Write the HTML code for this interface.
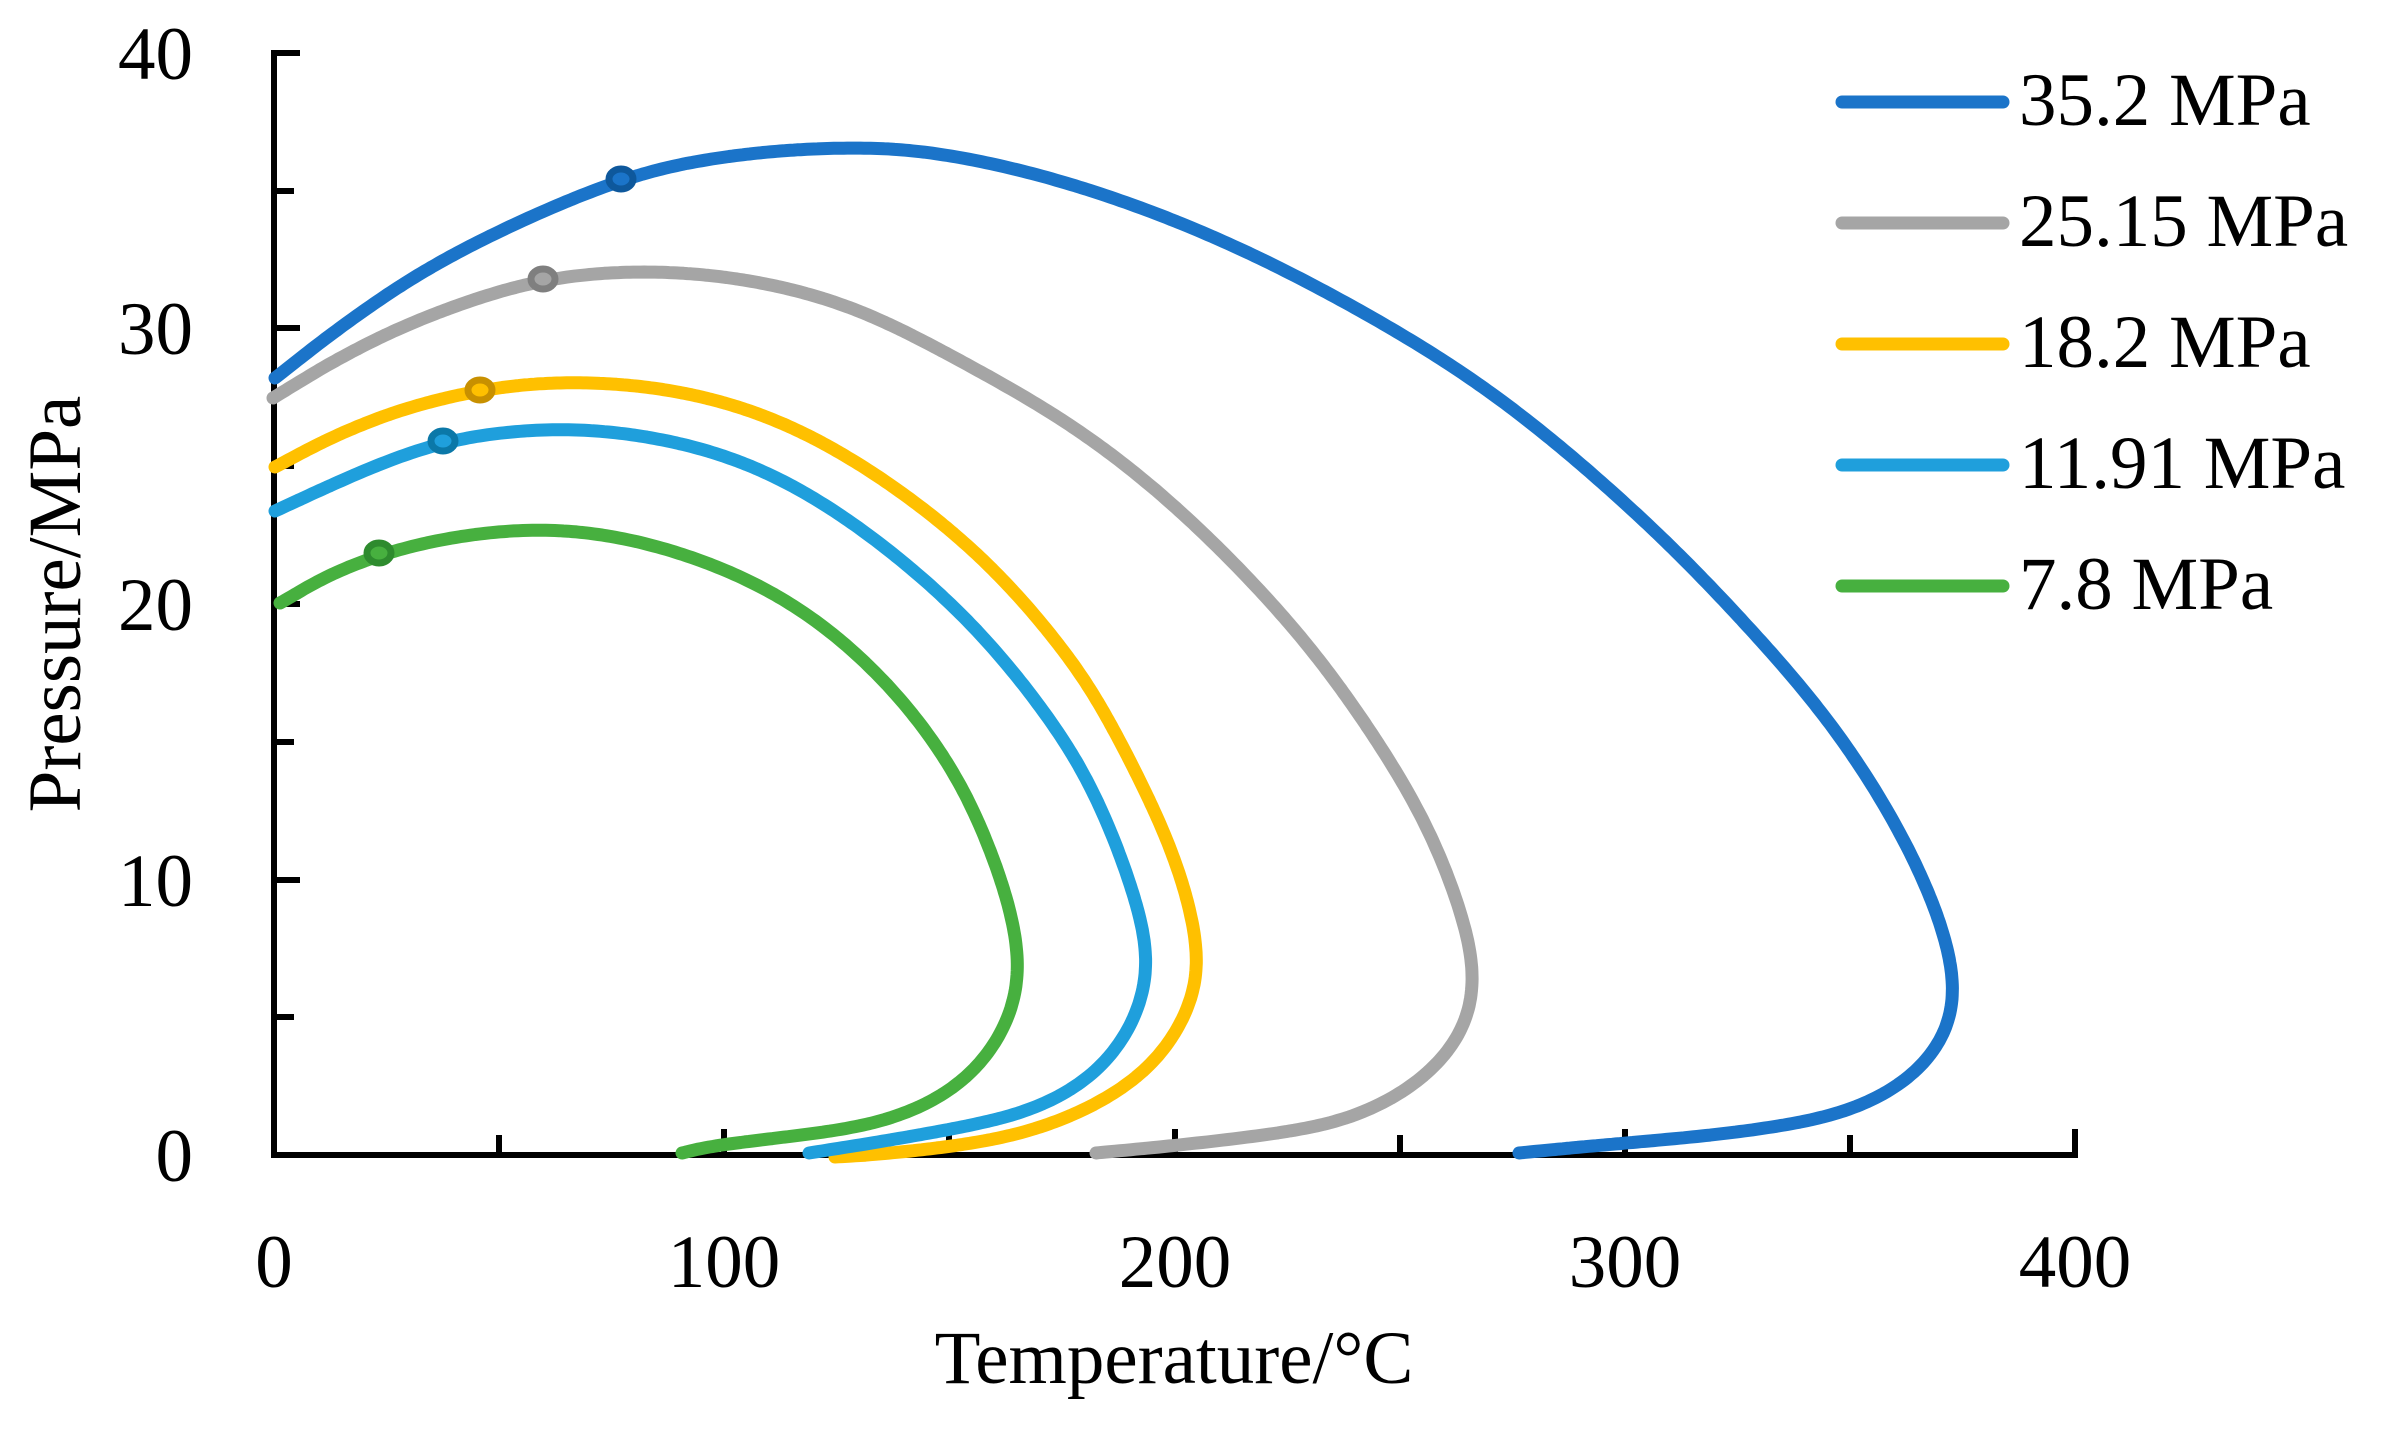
<!DOCTYPE html>
<html><head><meta charset="utf-8"><style>
html,body{margin:0;padding:0;background:#fff;}
svg{display:block;}
text{font-family:"Liberation Serif",serif;fill:#000;}
</style></head><body>
<svg id="s" width="2386" height="1433" viewBox="0 0 2386 1433" xmlns="http://www.w3.org/2000/svg">
<rect width="2386" height="1433" fill="#fff"/>
<g stroke="#000" stroke-width="6" fill="none">
<line x1="274" y1="50" x2="274" y2="1158"/>
<line x1="271" y1="1155" x2="2078" y2="1155"/>
<line x1="274" y1="53" x2="300" y2="53"/>
<line x1="274" y1="191" x2="294" y2="191"/>
<line x1="274" y1="328" x2="300" y2="328"/>
<line x1="274" y1="466" x2="294" y2="466"/>
<line x1="274" y1="604" x2="300" y2="604"/>
<line x1="274" y1="742" x2="294" y2="742"/>
<line x1="274" y1="880" x2="300" y2="880"/>
<line x1="274" y1="1017" x2="294" y2="1017"/>
<line x1="499" y1="1155" x2="499" y2="1135"/>
<line x1="724" y1="1155" x2="724" y2="1129"/>
<line x1="949" y1="1155" x2="949" y2="1135"/>
<line x1="1175" y1="1155" x2="1175" y2="1129"/>
<line x1="1400" y1="1155" x2="1400" y2="1135"/>
<line x1="1625" y1="1155" x2="1625" y2="1129"/>
<line x1="1850" y1="1155" x2="1850" y2="1135"/>
<line x1="2075" y1="1155" x2="2075" y2="1129"/>
</g>
<g font-size="75" text-anchor="end">
<text x="193" y="79">40</text>
<text x="193" y="354">30</text>
<text x="193" y="630">20</text>
<text x="193" y="906">10</text>
<text x="193" y="1181">0</text>
</g>
<g font-size="75" text-anchor="middle">
<text x="274" y="1287">0</text>
<text x="724" y="1287">100</text>
<text x="1175" y="1287">200</text>
<text x="1625" y="1287">300</text>
<text x="2075" y="1287">400</text>
<text x="1174" y="1383">Temperature/°C</text>
<text transform="translate(80,604) rotate(-90)" x="0" y="0">Pressure/MPa</text>
</g>
<g id="curves" fill="none" stroke-width="13" stroke-linecap="round" stroke-linejoin="round"></g>
<g id="markers"></g>
<g stroke-width="13" stroke-linecap="round">
<line x1="1842" y1="102" x2="2003" y2="102" stroke="#1b74c9"/>
<line x1="1842" y1="223" x2="2003" y2="223" stroke="#a5a5a5"/>
<line x1="1842" y1="344" x2="2003" y2="344" stroke="#ffc000"/>
<line x1="1842" y1="465" x2="2003" y2="465" stroke="#1f9fdc"/>
<line x1="1842" y1="586" x2="2003" y2="586" stroke="#47b03f"/>
</g>
<g font-size="75">
<text x="2019" y="125">35.2 MPa</text>
<text x="2019" y="246">25.15 MPa</text>
<text x="2019" y="367">18.2 MPa</text>
<text x="2019" y="488">11.91 MPa</text>
<text x="2019" y="609">7.8 MPa</text>
</g>
</svg>
<script>
var series=[
{c:"#1b74c9",m:"#0e589c",mk:[621,179],p:[[275,378],[372,304],[474,243],[621,179],[729,156],[831,148],[933,152],[1070,183],[1223,240],[1376,319],[1504,401],[1631,508],[1733,610],[1835,728],[1910,850],[1950,950],[1958,1000],[1951,1030],[1916,1080],[1846,1113],[1733,1133],[1602,1145],[1519,1153]]},
{c:"#a5a5a5",m:"#7f7f7f",mk:[543,279],p:[[273,398],[372,340],[474,299],[543,279],[648,271],[755,281],[857,309],[959,360],[1070,424],[1172,503],[1274,605],[1351,702],[1427,824],[1470,940],[1478,990],[1467,1030],[1428,1080],[1358,1117],[1253,1137],[1096,1153]]},
{c:"#ffc000",m:"#c89000",mk:[480,390],p:[[275,467],[372,419],[480,390],[576,382],[678,391],[780,421],[882,478],[984,559],[1070,658],[1121,743],[1172,850],[1198,940],[1201,980],[1188,1013],[1157,1067],[1096,1107],[1009,1137],[905,1152],[835,1157]]},
{c:"#1f9fdc",m:"#0b78a8",mk:[443,441],p:[[275,511],[372,467],[443,441],[561,428],[678,442],[780,478],[882,544],[984,636],[1070,748],[1111,830],[1145,930],[1151,970],[1140,1013],[1105,1073],[1035,1110],[931,1133],[809,1153]]},
{c:"#47b03f",m:"#2e8b2e",mk:[379,553],p:[[280,603],[379,553],[525,528],[653,544],[780,595],[882,677],[959,779],[1005,890],[1022,960],[1014,1013],[983,1067],[931,1107],[843,1130],[730,1143],[682,1153]]}
];
var NS="http://www.w3.org/2000/svg",g=document.getElementById("curves"),mg=document.getElementById("markers");
function dense(p){var out=[];for(var i=0;i<p.length-1;i++){var p0=p[i-1]||p[i],p1=p[i],p2=p[i+1],p3=p[i+2]||p2;
for(var k=0;k<30;k++){var t=k/30,t2=t*t,t3=t2*t;out.push([0,1].map(function(j){return 0.5*((2*p1[j])+(-p0[j]+p2[j])*t+(2*p0[j]-5*p1[j]+4*p2[j]-p3[j])*t2+(-p0[j]+3*p1[j]-3*p2[j]+p3[j])*t3);}));}}
out.push(p[p.length-1]);
// resample by arc length
var r=[out[0]],acc=0,step=3;for(var i=1;i<out.length;i++){var a=out[i-1],b=out[i],d=Math.hypot(b[0]-a[0],b[1]-a[1]);acc+=d;if(acc>=step){r.push(b);acc=0;}}
if(r[r.length-1]!==out[out.length-1])r.push(out[out.length-1]);
// gaussian smooth
var s=10,n=r.length,sm=[];for(var i=0;i<n;i++){var w=Math.min(3*s,i,n-1-i),sx=0,sy=0,sw=0;for(var j=-w;j<=w;j++){var ww=Math.exp(-j*j/(2*s*s));sx+=r[i+j][0]*ww;sy+=r[i+j][1]*ww;sw+=ww;}sm.push([sx/sw,sy/sw]);}
return "M"+sm.map(function(q){return q[0].toFixed(1)+","+q[1].toFixed(1);}).join(" L");}
series.forEach(function(s){var e=document.createElementNS(NS,"path");e.setAttribute("d",dense(s.p));e.setAttribute("stroke",s.c);g.appendChild(e);
var m=document.createElementNS(NS,"ellipse");m.setAttribute("cx",s.mk[0]);m.setAttribute("cy",s.mk[1]);m.setAttribute("rx",12);m.setAttribute("ry",10);
m.setAttribute("fill",s.c);m.setAttribute("stroke",s.m);m.setAttribute("stroke-width",7);mg.appendChild(m);});
</script>
</body></html>
